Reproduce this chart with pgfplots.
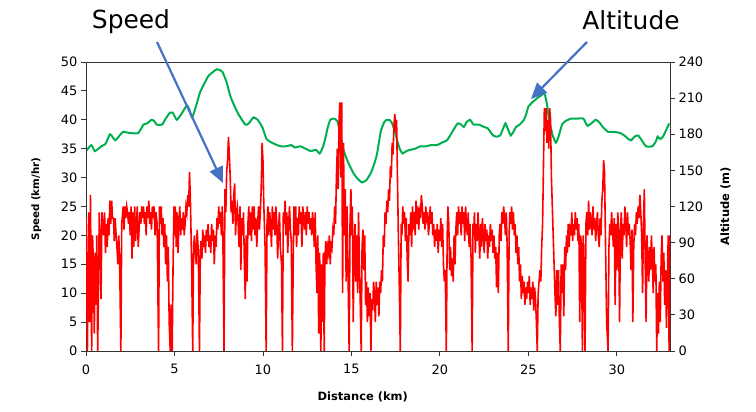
\documentclass[border=0pt]{standalone}
\usepackage{pgfplots}
\pgfplotsset{compat=1.18}
\usepackage{fontspec}
\setmainfont{DejaVu Sans}
\usetikzlibrary{arrows.meta}
\definecolor{spd}{RGB}{255,0,0}
\definecolor{altc}{RGB}{0,176,80}
\definecolor{arr}{RGB}{68,114,196}
\begin{document}
\begin{tikzpicture}
\useasboundingbox (0,0) rectangle (756bp,412bp);
\pgfplotsset{every axis/.append style={
  at={(86bp,61bp)}, anchor=south west, width=584bp, height=289bp, scale only axis,
  xmin=0, xmax=33, tick align=outside, major tick length=5bp,
  /pgf/number format/assume math mode=true,
  tick label style={font=\fontsize{13}{13}\selectfont, black},
  axis line style={black!80, line width=0.9bp},
  tick style={black!80, line width=0.9bp},
  label style={font=\fontsize{11.5}{12}\selectfont\bfseries},
}}
\begin{axis}[
  ymin=0, ymax=240, hide x axis,
  axis y line*=right, ytick={0,30,...,240},
  ylabel={Altitude (m)},
  y label style={at={(axis description cs:1.095,0.5)}, anchor=center},
]
\addplot[altc, line width=2bp, smooth, tension=0.3] coordinates {
(0,166)(0.3,171)(0.5,166)(0.87,170)(1.1,172)(1.36,180)(1.65,175)(1.9,179)(2.1,182)(2.5,181)(2.95,181)(3.25,188)(3.45,189)(3.7,192)(3.85,191)(4.0,188)(4.3,188)(4.5,193)(4.75,198)(4.9,198)(5.13,192)(5.4,197)(5.7,204)(5.85,200)(6.0,194)(6.25,205)(6.45,215)(6.9,228)(7.2,232)(7.4,234)(7.7,232)(7.95,223)(8.15,212)(8.34,205)(8.6,197)(9.0,188)(9.2,189)(9.46,194)(9.7,192)(9.96,186)(10.2,176)(10.5,173)(10.8,171)(11.0,170)(11.3,170)(11.6,171)(11.8,169)(12.1,170)(12.4,168)(12.7,166)(13.0,167)(13.2,164)(13.35,168)(13.5,175)(13.65,185)(13.8,192)(14.0,193)(14.2,191)(14.35,182)(14.55,167)(14.8,157)(15.1,148)(15.35,143)(15.6,140)(15.85,142)(16.1,148)(16.3,156)(16.45,164)(16.65,182)(16.85,190)(17.0,192)(17.15,192)(17.3,189)(17.45,182)(17.6,174)(17.75,167)(17.9,164)(18.1,166)(18.3,167)(18.6,168)(18.9,170)(19.2,170)(19.5,171)(19.85,171)(20.1,173)(20.4,175)(20.7,182)(21.0,189)(21.2,188)(21.35,186)(21.5,190)(21.7,192)(21.9,188)(22.2,188)(22.5,186)(22.7,185)(22.85,182)(23.0,179)(23.2,178)(23.4,179)(23.55,184)(23.7,189)(23.85,184)(24.0,179)(24.15,182)(24.3,186)(24.5,188)(24.75,192)(24.9,198)(25.0,203)(25.25,207)(25.5,210)(25.7,212)(25.9,214)(26.05,205)(26.15,194)(26.35,180)(26.55,173)(26.7,178)(26.9,188)(27.1,191)(27.4,193)(27.7,193)(28.1,193)(28.25,189)(28.35,187)(28.55,189)(28.8,192)(29.0,190)(29.2,186)(29.5,182)(29.8,182)(30.2,181)(30.5,178)(30.65,176)(30.8,175)(31.0,178)(31.2,179)(31.4,175)(31.65,170)(32.0,170)(32.2,174)(32.3,178)(32.45,176)(32.6,178)(32.8,184)(32.95,189)
};
\end{axis}
\begin{axis}[
  ymin=0, ymax=50, ytick={0,5,...,50}, xtick={0,5,...,30},
  xtick pos=bottom, ytick pos=left,
  xticklabel style={yshift=-5bp},
  xlabel={Distance (km)}, ylabel={Speed (km/hr)},
  x label style={at={(axis description cs:0.474,-0.16)}, anchor=center},
  y label style={at={(axis description cs:-0.085,0.526)}, anchor=center, font=\fontsize{10.3}{11}\selectfont\bfseries},
]
\addplot[spd, line width=1.6bp] coordinates {
(0,23)(0.05,9)(0.08,0)(0.15,24)(0.2,5)(0.25,27)(0.32,0)(0.37,20)(0.42,15)(0.47,3)(0.52,17)(0.57,8)(0.61,20)(0.66,0)(0.71,12)(0.75,24)(0.8,18)(0.85,9)(0.9,24)(1,20)(1.05,24)(1.1,17)(1.15,22)(1.2,18)(1.25,23)(1.3,20)(1.35,26)(1.4,22)(1.45,26)(1.5,23)(1.55,23)(1.6,19)(1.65,23)(1.7,20)(1.75,18)(1.8,15)(1.85,20)(1.9,16)(1.97,0)(2.02,22)(2.1,25)(2.15,21)(2.2,25)(2.25,23)(2.3,25)(2.35,24)(2.4,22)(2.45,24)(2.5,20)(2.55,25)(2.6,16)(2.65,24)(2.7,18)(2.75,25)(2.8,19)(2.85,22)(2.9,25)(2.95,18)(3,21)(3.05,24)(3.1,22)(3.15,25)(3.2,23)(3.25,25)(3.3,22)(3.35,24)(3.4,20)(3.45,25)(3.5,23)(3.55,26)(3.6,22)(3.65,24)(3.7,21)(3.75,25)(3.8,23)(3.85,25)(3.9,20)(3.95,24)(4.02,22)(4.1,0)(4.15,25)(4.2,22)(4.25,25)(4.3,20)(4.35,23)(4.4,18)(4.45,22)(4.5,15)(4.55,20)(4.6,12)(4.65,18)(4.7,5)(4.76,0)(4.81,8)(4.87,0)(4.92,15)(4.97,25)(5,20)(5.05,25)(5.1,18)(5.15,24)(5.2,17)(5.25,22)(5.3,25)(5.35,20)(5.4,23)(5.45,21)(5.5,24)(5.55,20)(5.6,22)(5.65,25)(5.7,24)(5.75,27)(5.8,25)(5.85,31)(5.9,26)(5.97,15)(6.03,0)(6.08,18)(6.13,20)(6.18,17)(6.23,15)(6.28,21)(6.35,17)(6.41,0)(6.46,17)(6.5,19)(6.55,16)(6.6,21)(6.65,18)(6.7,20)(6.75,17)(6.8,21)(6.85,19)(6.9,22)(6.95,18)(7,20)(7.05,17)(7.1,22)(7.15,19)(7.2,21)(7.25,15)(7.3,20)(7.35,18)(7.4,23)(7.45,21)(7.5,25)(7.55,22)(7.6,24)(7.65,20)(7.7,25)(7.74,18)(7.8,0)(7.85,28)(7.9,24)(7.95,31)(8,33)(8.05,37)(8.1,34)(8.15,30)(8.2,24)(8.25,26)(8.3,22)(8.35,27)(8.4,29)(8.45,20)(8.5,24)(8.55,25)(8.6,22)(8.65,18)(8.7,25)(8.75,14)(8.8,23)(8.85,20)(8.9,24)(8.95,15)(9,9)(9.05,20)(9.1,12)(9.15,22)(9.2,25)(9.25,20)(9.3,24)(9.35,19)(9.4,25)(9.45,21)(9.5,25)(9.55,20)(9.6,23)(9.65,18)(9.7,22)(9.75,25)(9.8,21)(9.85,24)(9.9,28)(9.95,36)(10,33)(10.05,25)(10.12,18)(10.18,0)(10.23,22)(10.28,25)(10.33,20)(10.38,24)(10.43,22)(10.48,18)(10.53,25)(10.58,21)(10.63,24)(10.68,20)(10.73,25)(10.78,22)(10.83,16)(10.88,21)(10.93,24)(10.98,18)(11.05,15)(11.1,0)(11.15,24)(11.2,22)(11.25,26)(11.3,20)(11.35,24)(11.4,17)(11.45,22)(11.5,25)(11.55,21)(11.6,19)(11.66,0)(11.71,16)(11.75,25)(11.8,20)(11.85,25)(11.9,18)(11.95,23)(12,20)(12.05,25)(12.1,22)(12.15,24)(12.2,18)(12.25,25)(12.3,23)(12.35,21)(12.4,24)(12.45,20)(12.5,25)(12.55,22)(12.6,24)(12.65,21)(12.7,23)(12.75,20)(12.8,24)(12.85,22)(12.9,18)(12.95,24)(13,15)(13.05,10)(13.1,20)(13.15,3)(13.2,17)(13.27,0)(13.32,15)(13.37,5)(13.41,17)(13.46,0)(13.5,16)(13.55,19)(13.6,15)(13.65,18)(13.7,17)(13.75,20)(13.8,15)(13.85,19)(13.9,18)(13.95,21)(14,20)(14.05,25)(14.1,22)(14.15,30)(14.2,35)(14.25,28)(14.3,40)(14.35,43)(14.4,30)(14.45,43)(14.5,10)(14.55,36)(14.6,20)(14.65,28)(14.7,12)(14.75,25)(14.8,15)(14.87,0)(14.92,22)(14.97,28)(15,20)(15.05,25)(15.1,5)(15.15,18)(15.2,22)(15.25,12)(15.3,20)(15.35,10)(15.4,24)(15.45,15)(15.5,8)(15.55,0)(15.6,18)(15.65,21)(15.7,14)(15.75,20)(15.8,8)(15.85,12)(15.9,5)(15.95,11)(16,6)(16.05,10)(16.1,0)(16.15,9)(16.2,7)(16.25,12)(16.3,10)(16.35,5)(16.4,12)(16.45,8)(16.5,11)(16.55,6)(16.6,12)(16.65,10)(16.7,14)(16.75,12)(16.8,20)(16.85,18)(16.9,24)(16.95,22)(17,26)(17.05,24)(17.1,28)(17.15,26)(17.2,32)(17.25,30)(17.3,36)(17.35,34)(17.4,39)(17.45,41)(17.5,38)(17.55,40)(17.6,30)(17.65,20)(17.7,12)(17.76,0)(17.81,22)(17.85,20)(17.9,25)(17.95,22)(18,24)(18.05,19)(18.1,23)(18.15,16)(18.2,12)(18.25,22)(18.3,20)(18.35,24)(18.4,18)(18.45,25)(18.5,21)(18.55,24)(18.6,20)(18.65,26)(18.7,22)(18.75,25)(18.8,21)(18.85,24)(18.9,23)(18.95,27)(19,25)(19.05,22)(19.1,24)(19.15,21)(19.2,25)(19.25,23)(19.3,24)(19.35,20)(19.4,22)(19.45,25)(19.5,22)(19.55,24)(19.6,20)(19.65,22)(19.7,18)(19.75,21)(19.8,19)(19.85,22)(19.9,17)(19.95,21)(20,19)(20.05,23)(20.1,18)(20.15,22)(20.2,15)(20.25,12)(20.3,14)(20.36,0)(20.41,20)(20.45,25)(20.5,22)(20.55,14)(20.6,18)(20.65,13)(20.7,16)(20.75,12)(20.8,20)(20.85,15)(20.9,21)(20.95,24)(21,20)(21.05,25)(21.1,22)(21.15,24)(21.2,20)(21.25,25)(21.3,22)(21.35,24)(21.4,19)(21.45,25)(21.5,22)(21.55,20)(21.6,24)(21.65,18)(21.7,22)(21.76,16)(21.82,0)(21.87,22)(21.9,20)(21.95,24)(22,17)(22.05,22)(22.1,19)(22.15,24)(22.2,20)(22.25,16)(22.3,22)(22.35,18)(22.4,23)(22.45,20)(22.5,17)(22.55,22)(22.6,19)(22.65,21)(22.7,16)(22.75,20)(22.8,18)(22.85,22)(22.9,19)(22.95,21)(23,17)(23.05,20)(23.1,16)(23.15,18)(23.2,11)(23.25,17)(23.3,10)(23.35,20)(23.4,22)(23.45,19)(23.5,24)(23.55,22)(23.6,25)(23.65,23)(23.7,20)(23.75,24)(23.8,18)(23.86,0)(23.91,20)(23.95,24)(24,22)(24.05,25)(24.1,21)(24.15,24)(24.2,20)(24.25,22)(24.3,17)(24.35,20)(24.4,15)(24.45,18)(24.5,12)(24.55,15)(24.6,9)(24.65,13)(24.7,10)(24.75,12)(24.8,8)(24.85,11)(24.9,9)(24.95,12)(25,10)(25.05,13)(25.1,8)(25.15,11)(25.2,9)(25.25,12)(25.3,7)(25.35,11)(25.4,9)(25.45,5)(25.5,0)(25.55,10)(25.6,12)(25.65,14)(25.7,12)(25.75,18)(25.8,22)(25.85,32)(25.9,42)(25.95,38)(26,42)(26.05,36)(26.1,40)(26.15,35)(26.2,42)(26.25,40)(26.3,30)(26.35,25)(26.4,20)(26.45,15)(26.5,10)(26.55,6)(26.6,14)(26.65,8)(26.7,14)(26.75,5)(26.8,0)(26.85,15)(26.9,10)(26.95,15)(27,6)(27.05,18)(27.1,14)(27.15,20)(27.2,17)(27.25,22)(27.3,18)(27.35,21)(27.4,20)(27.45,24)(27.5,19)(27.55,22)(27.6,20)(27.65,24)(27.7,21)(27.75,23)(27.8,19)(27.85,22)(27.9,5)(27.95,20)(28,18)(28.05,0)(28.1,20)(28.15,12)(28.2,0)(28.25,22)(28.3,24)(28.35,20)(28.4,26)(28.45,21)(28.5,24)(28.55,22)(28.6,20)(28.65,25)(28.7,21)(28.75,23)(28.8,19)(28.85,22)(28.9,24)(28.95,20)(29,18)(29.05,23)(29.1,20)(29.15,26)(29.2,28)(29.25,33)(29.3,31)(29.35,20)(29.42,5)(29.5,0)(29.55,18)(29.6,22)(29.65,20)(29.7,24)(29.75,21)(29.8,18)(29.85,23)(29.9,8)(29.95,22)(30,14)(30.05,24)(30.1,20)(30.15,5)(30.2,21)(30.25,24)(30.3,16)(30.35,22)(30.4,20)(30.45,25)(30.5,22)(30.55,18)(30.6,24)(30.65,20)(30.7,22)(30.75,19)(30.8,14)(30.85,21)(30.9,5)(30.95,18)(31,22)(31.05,20)(31.1,24)(31.15,22)(31.2,25)(31.25,23)(31.3,27)(31.35,24)(31.4,20)(31.45,10)(31.5,22)(31.55,28)(31.6,15)(31.65,5)(31.7,20)(31.75,16)(31.8,12)(31.85,18)(31.9,14)(31.95,20)(32,16)(32.05,10)(32.1,18)(32.15,12)(32.2,15)(32.25,0)(32.3,10)(32.35,3)(32.4,12)(32.45,5)(32.5,16)(32.55,20)(32.6,12)(32.65,17)(32.7,8)(32.75,14)(32.8,4)(32.85,12)(32.9,20)(32.95,0)(33,20)
};
\end{axis}
\begin{scope}[x=1bp,y=1bp]
\node[anchor=base, font=\fontsize{25}{25}\selectfont] at (131,384) {Speed};
\node[anchor=base, font=\fontsize{25}{25}\selectfont] at (631,383) {Altitude};
\draw[arr, line width=2.2bp, -{Triangle[length=16bp,width=14bp]}] (157,370) -- (223,229);
\draw[arr, line width=2.2bp, -{Triangle[length=16bp,width=14bp]}] (587,370) -- (531,313);
\end{scope}
\end{tikzpicture}
\end{document}
